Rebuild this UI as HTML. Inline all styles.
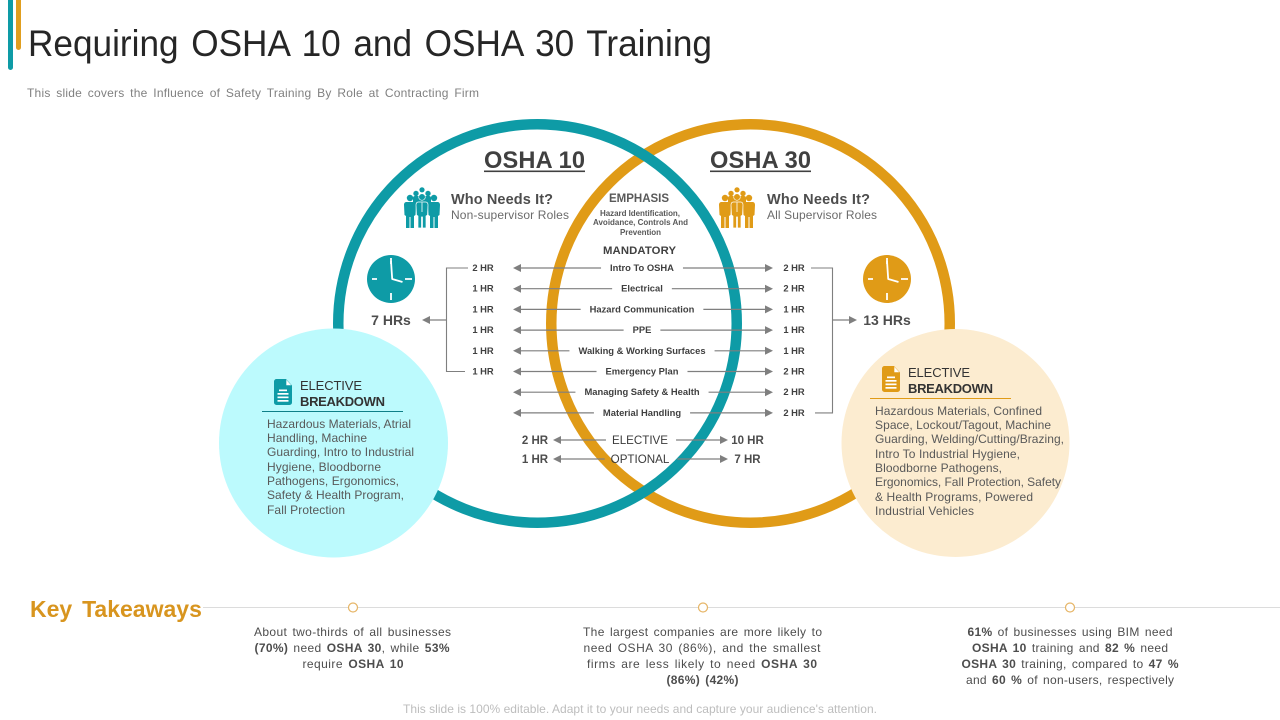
<!DOCTYPE html>
<html lang="en">
<head>
<meta charset="utf-8">
<title>Requiring OSHA 10 and OSHA 30 Training</title>
<style>
html,body{margin:0;padding:0;background:#fff;width:1280px;height:720px;overflow:hidden}
svg{display:block;font-family:"Liberation Sans",Arial,sans-serif}
.b{font-weight:bold}
.c{text-anchor:middle}
.body{font-size:12px;fill:#595959}
.take{font-size:12px;fill:#4d4d4d;text-anchor:middle;word-spacing:1.6px}
.take tspan{font-weight:bold}
.row{font-size:9.4px;font-weight:bold;fill:#404040;text-anchor:middle}
.head{font-size:13px;fill:#333}
</style>
</head>
<body>
<svg id="slide" width="1280" height="720" viewBox="0 0 1280 720" xmlns="http://www.w3.org/2000/svg">
  <rect width="1280" height="720" fill="#fff"/>
  <rect x="8" y="-10" width="5" height="80" rx="2.5" fill="#0e9ba6"/>
  <rect x="16" y="-10" width="5" height="60" rx="2.5" fill="#e09e1f"/>
  <text x="28" y="56" font-size="37" fill="#262626" style="word-spacing:3px" textLength="684" lengthAdjust="spacingAndGlyphs">Requiring OSHA 10 and OSHA 30 Training</text>
  <text x="27" y="97" font-size="12" fill="#808080" style="word-spacing:2.2px" textLength="452" lengthAdjust="spacing">This slide covers the Influence of Safety Training By Role at Contracting Firm</text>

  <circle cx="750.5" cy="323.5" r="199.25" fill="none" stroke="#e09b17" stroke-width="10.5"/>
  <circle cx="537.5" cy="323.5" r="199.25" fill="none" stroke="#0e9ba6" stroke-width="10.5"/>

  <g>
    <text x="484" y="168" font-size="23.6" class="b" fill="#404040" textLength="101" lengthAdjust="spacing">OSHA 10</text>
    <rect x="484" y="170.5" width="101" height="1.6" fill="#404040"/>
  </g>
  <g>
    <text x="710" y="168" font-size="23.6" class="b" fill="#404040" textLength="101" lengthAdjust="spacing">OSHA 30</text>
    <rect x="710" y="170.5" width="101" height="1.6" fill="#404040"/>
  </g>

  <defs>
    <g id="people">
      <circle cx="18" cy="2.8" r="2.6"/>
      <circle cx="12" cy="6.5" r="2.7"/>
      <circle cx="24" cy="6.5" r="2.7"/>
      <rect x="9" y="9" width="18" height="10" rx="2"/>
      <circle cx="6" cy="11" r="3.2"/>
      <circle cx="30" cy="11" r="3.2"/>
      <path transform="translate(6,15)" d="M-3.5 0H3.5C5 0 6 1 6 3L5.5 13 4 14V26H.5V15H-.5V26H-4V14L-5.5 13-6 3C-6 1-5 0-3.500 0Z"/>
      <path transform="translate(30,15)" d="M-3.5 0H3.5C5 0 6 1 6 3L5.500 13 4 14V26H.5V15H-.5V26H-4V14L-5.500 13-6 3C-6 1-5 0-3.500 0Z"/>
      <circle cx="18" cy="10" r="3.3" stroke="#fff" stroke-width=".6"/>
      <path transform="translate(18,15)" d="M-3.5 0H3.5C5 0 6 1 6 3L5.500 13 4 14V26H.5V15H-.5V26H-4V14L-5.500 13-6 3C-6 1-5 0-3.500 0Z" stroke="#fff" stroke-width=".7"/>
      <path d="M18 15.500V25" stroke="#fff" stroke-width=".8"/>
    </g>
    <g id="doc">
      <path d="M2.500 0H12L18 6.500V23.500A2.500 2.500 0 0 1 15.500 26H2.500A2.500 2.500 0 0 1 0 23.500V2.500A2.500 2.500 0 0 1 2.500 0Z"/>
      <path d="M12.300 .8 17.300 6.300H12.300Z" fill="#fff"/>
      <rect x="5" y="10.500" width="8" height="1.700" fill="#fff"/>
      <rect x="3.500" y="14" width="11" height="1.700" fill="#fff"/>
      <rect x="3.500" y="17.500" width="11" height="1.700" fill="#fff"/>
      <rect x="3.500" y="21" width="11" height="1.700" fill="#fff"/>
    </g>
    <g id="clock-face">
      <g stroke="#fff" stroke-width="1.800" fill="none">
        <path d="M0-21V-15M0 14V21M-19 0H-14M14 0H21"/>
        <path d="M0-18 1.200 0 11.500 3" stroke-linejoin="round"/>
      </g>
    </g>
  </defs>

  <use href="#people" x="404" y="187" fill="#0e9ba6"/>
  <use href="#people" x="719" y="187" fill="#e09b17"/>

  <g>
    <text x="451" y="204" font-size="14.5" class="b" fill="#4d4d4d" textLength="102" lengthAdjust="spacing">Who Needs It?</text>
    <text x="451" y="219" font-size="12" fill="#6b6b6b" textLength="118" lengthAdjust="spacing">Non-supervisor Roles</text>
  </g>
  <g>
    <text x="767" y="204" font-size="14.5" class="b" fill="#4d4d4d" textLength="103" lengthAdjust="spacing">Who Needs It?</text>
    <text x="767" y="219" font-size="12" fill="#6b6b6b" textLength="110" lengthAdjust="spacing">All Supervisor Roles</text>
  </g>

  <g>
    <text x="639" y="202" font-size="11.5" class="b c" fill="#595959" textLength="60" lengthAdjust="spacing">EMPHASIS</text>
    <g font-size="8" class="b" fill="#595959">
      <text x="640" y="216" class="c" textLength="80" lengthAdjust="spacing">Hazard Identification,</text>
      <text x="640.500" y="225" class="c" textLength="95" lengthAdjust="spacing">Avoidance, Controls And</text>
      <text x="640.500" y="235" class="c" textLength="41" lengthAdjust="spacing">Prevention</text>
    </g>
    <text x="639.500" y="254" font-size="11.3" class="b c" fill="#404040" textLength="73" lengthAdjust="spacing">MANDATORY</text>
  </g>

  <g transform="translate(391,279)">
    <circle r="24" fill="#0e9ba6"/>
    <use href="#clock-face"/>
  </g>
  <g transform="translate(887,279)">
    <circle r="24" fill="#e09b17"/>
    <use href="#clock-face"/>
  </g>

  <g id="training-rows"></g>

  <circle cx="333.500" cy="443" r="114.500" fill="#bcfafd"/>
  <circle cx="955.500" cy="443" r="114" fill="#fcecd0"/>

  <g>
    <use href="#doc" x="274" y="379" fill="#0e9ba6"/>
    <text class="head" x="300" y="390" textLength="62" lengthAdjust="spacing">ELECTIVE</text>
    <text class="head b" x="300" y="406" textLength="85" lengthAdjust="spacing">BREAKDOWN</text>
    <rect x="262" y="411" width="141" height="1" fill="#0e7f88"/>
    <g class="body">
      <text x="267" y="428" textLength="144" lengthAdjust="spacing">Hazardous Materials, Atrial</text>
      <text x="267" y="442" textLength="100" lengthAdjust="spacing">Handling, Machine</text>
      <text x="267" y="456" textLength="147" lengthAdjust="spacing">Guarding, Intro to Industrial</text>
      <text x="267" y="471" textLength="114" lengthAdjust="spacing">Hygiene, Bloodborne</text>
      <text x="267" y="485" textLength="132" lengthAdjust="spacing">Pathogens, Ergonomics,</text>
      <text x="267" y="499" textLength="137" lengthAdjust="spacing">Safety &amp; Health Program,</text>
      <text x="267" y="514" textLength="78" lengthAdjust="spacing">Fall Protection</text>
    </g>
  </g>

  <g>
    <use href="#doc" x="882" y="366" fill="#e09b17"/>
    <text class="head" x="908" y="377" textLength="62" lengthAdjust="spacing">ELECTIVE</text>
    <text class="head b" x="908" y="393" textLength="85" lengthAdjust="spacing">BREAKDOWN</text>
    <rect x="870" y="398" width="141" height="1" fill="#e09b17"/>
    <g class="body">
      <text x="875" y="415" textLength="167" lengthAdjust="spacing">Hazardous Materials, Confined</text>
      <text x="875" y="429" textLength="176" lengthAdjust="spacing">Space, Lockout/Tagout, Machine</text>
      <text x="875" y="443" textLength="189" lengthAdjust="spacing">Guarding, Welding/Cutting/Brazing,</text>
      <text x="875" y="458" textLength="145" lengthAdjust="spacing">Intro To Industrial Hygiene,</text>
      <text x="875" y="472" textLength="127" lengthAdjust="spacing">Bloodborne Pathogens,</text>
      <text x="875" y="486" textLength="186" lengthAdjust="spacing">Ergonomics, Fall Protection, Safety</text>
      <text x="875" y="501" textLength="158" lengthAdjust="spacing">&amp; Health Programs, Powered</text>
      <text x="875" y="515" textLength="99" lengthAdjust="spacing">Industrial Vehicles</text>
    </g>
  </g>

  <text x="30" y="617" font-size="23" class="b" fill="#d8951f" style="word-spacing:3.500px">Key Takeaways</text>
  <rect x="203" y="607" width="1077" height="1" fill="#dcdcdc"/>
  <circle cx="353" cy="607.500" r="4.500" fill="#fff" stroke="#e6b566" stroke-width="1.200"/>
  <circle cx="703" cy="607.500" r="4.500" fill="#fff" stroke="#e6b566" stroke-width="1.200"/>
  <circle cx="1070" cy="607.500" r="4.500" fill="#fff" stroke="#e6b566" stroke-width="1.200"/>

  <g class="take">
    <text x="352.500" y="636" textLength="197" lengthAdjust="spacing">About two-thirds of all businesses</text>
    <text x="352" y="652" textLength="195" lengthAdjust="spacing"><tspan>(70%)</tspan> need <tspan>OSHA 30</tspan>, while <tspan>53%</tspan></text>
    <text x="353" y="668" textLength="101" lengthAdjust="spacing">require <tspan>OSHA 10</tspan></text>
  </g>
  <g class="take">
    <text x="702.500" y="636" textLength="239" lengthAdjust="spacing">The largest companies are more likely to</text>
    <text x="702" y="652" textLength="237" lengthAdjust="spacing">need OSHA 30 (86%), and the smallest</text>
    <text x="702" y="668" textLength="230" lengthAdjust="spacing">firms are less likely to need <tspan>OSHA 30</tspan></text>
    <text x="702.500" y="684" textLength="72" lengthAdjust="spacing"><tspan>(86%)</tspan> <tspan>(42%)</tspan></text>
  </g>
  <g class="take">
    <text x="1070" y="636" textLength="205" lengthAdjust="spacing"><tspan>61%</tspan> of businesses using BIM need</text>
    <text x="1070" y="652" textLength="196" lengthAdjust="spacing"><tspan>OSHA 10</tspan> training and <tspan>82 %</tspan> need</text>
    <text x="1070" y="668" textLength="217" lengthAdjust="spacing"><tspan>OSHA 30</tspan> training, compared to <tspan>47 %</tspan></text>
    <text x="1070" y="684" textLength="208" lengthAdjust="spacing">and <tspan>60 %</tspan> of non-users, respectively</text>
  </g>

  <text x="640" y="713" font-size="12" class="c" fill="#bdbdbd" textLength="474" lengthAdjust="spacing">This slide is 100% editable. Adapt it to your needs and capture your audience's attention.</text>
</svg>

<script>
const topics = ["Intro To OSHA", "Electrical", "Hazard Communication", "PPE", "Walking & Working Surfaces", "Emergency Plan", "Managing Safety & Health", "Material Handling"];
const osha10Hours = [2, 1, 1, 1, 1, 1, null, null];
const osha30Hours = [2, 2, 1, 1, 1, 2, 2, 2];
const extraRows = ["ELECTIVE", "OPTIONAL"];
const extraOsha10 = [2, 1];
const extraOsha30 = [10, 7];

const NS = "http://www.w3.org/2000/svg";
const rowsGroup = document.getElementById("training-rows");
const GRAY = "#7f7f7f";
const rowY = i => 268 + i * 20.7;
const extraY = i => 440 + i * 19;
const LABEL_X = 642;
const LEFT_TIP = 513;
const RIGHT_TIP = 773;
const LEFT_HOURS_X = 483;
const RIGHT_HOURS_X = 794;

function shape(tag, attrs, parent) {
  const el = document.createElementNS(NS, tag);
  for (const k in attrs) el.setAttribute(k, attrs[k]);
  (parent || rowsGroup).appendChild(el);
  return el;
}
function textEl(str, x, y, cls, extra, parent) {
  const el = shape("text", Object.assign({ x: x, y: y, class: cls }, extra || {}), parent);
  el.textContent = str;
  return el;
}
function arrow(x1, x2, y, parent) {
  const dir = x2 > x1 ? 1 : -1;
  const g = shape("g", {}, parent);
  
  
  shape("line", { x1: x1, y1: y, x2: x2 - dir * 6, y2: y, stroke: GRAY, "stroke-width": 1.2 }, g);
  shape("polygon", { points: x2 + "," + y + " " + (x2 - dir * 8) + "," + (y - 4) + " " + (x2 - dir * 8) + "," + (y + 4), fill: GRAY }, g);
}
function polyline(points, parent) {
  const el = shape("polyline", { points: points.map(p => p.join(",")).join(" "), fill: "none", stroke: GRAY, "stroke-width": 1.1 }, parent);
  
  
  return el;
}

topics.forEach((topic, i) => {
  const y = rowY(i);
  const row = shape("g", {});
  
  
  const label = textEl(topic, LABEL_X, y + 3, "row", {}, row);
  const half = label.getComputedTextLength() / 2;
  arrow(LABEL_X - half - 9, LEFT_TIP, y, row);
  arrow(LABEL_X + half + 9, RIGHT_TIP, y, row);
  if (osha10Hours[i] !== null) textEl(osha10Hours[i] + " HR", LEFT_HOURS_X, y + 3, "row", {}, row);
  if (osha30Hours[i] !== null) textEl(osha30Hours[i] + " HR", RIGHT_HOURS_X, y + 3, "row", {}, row);
});

const sum = arr => arr.reduce((a, b) => a + (b || 0), 0);
const lastWith = arr => arr.reduce((last, v, i) => (v !== null ? i : last), 0);
const midY = 320;

polyline([[468, rowY(0)], [446.500, rowY(0)], [446.500, rowY(lastWith(osha10Hours))], [465, rowY(lastWith(osha10Hours))]]);
arrow(446.500, 422, midY);
const total10 = textEl(sum(osha10Hours) + " HRs", 391, 325, "b c", { "font-size": 14, fill: "#4d4d4d" });



polyline([[811, rowY(0)], [832.500, rowY(0)], [832.500, rowY(lastWith(osha30Hours))], [815, rowY(lastWith(osha30Hours))]]);
arrow(832.500, 857, midY);
const total30 = textEl(sum(osha30Hours) + " HRs", 887, 325, "b c", { "font-size": 14, fill: "#4d4d4d" });



extraRows.forEach((name, i) => {
  const y = extraY(i);
  const row = shape("g", {});
  
  
  const label = textEl(name, 640, y + 4, "c", { "font-size": 11.6, fill: "#3b3b3b" }, row);
  const half = label.getComputedTextLength() / 2;
  arrow(640 - half - 6, 553, y, row);
  arrow(640 + half + 8, 728, y, row);
  textEl(extraOsha10[i] + " HR", 535, y + 4, "b c", { "font-size": 11.5, fill: "#4d4d4d" }, row);
  textEl(extraOsha30[i] + " HR", 747.500, y + 4, "b c", { "font-size": 11.5, fill: "#4d4d4d" }, row);
});
</script>
</body>
</html>
